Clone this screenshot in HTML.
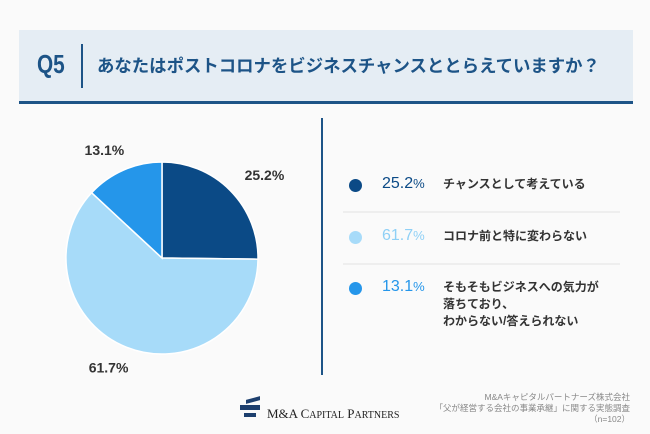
<!DOCTYPE html>
<html><head><meta charset="utf-8"><style>
body{margin:0;width:650px;height:434px;background:#fafafa;overflow:hidden;position:relative;font-family:"Liberation Sans","Noto Sans CJK JP",sans-serif}
.a{position:absolute}
</style></head><body>
<div class="a" style="left:19px;top:30px;width:614px;height:71px;background:#e5edf4;border-bottom:3px solid #1d5487"></div>
<div class="a" style="left:37px;top:49px;font-size:26px;font-weight:bold;color:#1d5487;transform:scaleX(.8);transform-origin:left">Q5</div>
<div class="a" style="left:81px;top:44px;width:2px;height:44px;background:#1d5487"></div>
<div class="a" style="left:97px;top:53px;font-size:17.4px;font-weight:bold;color:#1d5487">あなたはポストコロナをビジネスチャンスととらえていますか？</div>
<svg class="a" style="left:0;top:0" width="650" height="434">
<g id="pie"></g>
<line x1="322" y1="118" x2="322" y2="375" stroke="#1d5487" stroke-width="2"/>
<line x1="343" y1="212" x2="620" y2="212" stroke="#e2e2e2"/>
<line x1="343" y1="264" x2="620" y2="264" stroke="#e2e2e2"/>
</svg>
<div id="leg"></div>
<div class="a" style="left:240px;top:398px;width:20px;height:22px">
<div style="position:absolute;left:6px;top:0;width:14px;height:4px;background:#1d3f6e;transform:skewY(-15deg)"></div>
<div style="position:absolute;left:0;top:7px;width:20px;height:5px;background:#1d3f6e"></div>
<div style="position:absolute;left:4px;top:15px;width:12px;height:4px;background:#1d3f6e"></div></div>
<div class="a" style="left:267px;top:406px;font-family:'Liberation Serif',serif;font-size:13px;color:#222">M&amp;A C<span style="font-size:10px">APITAL</span> P<span style="font-size:10px">ARTNERS</span></div>
<div class="a" style="right:20px;top:392px;font-size:8.5px;color:#888;text-align:right;line-height:11px">M&amp;Aキャピタルパートナーズ株式会社<br>「父が経営する会社の事業承継」に関する実態調査<br>（n=102）</div>
<script>
const categories=["チャンスとして考えている","コロナ前と特に変わらない","そもそもビジネスへの気力が<br>落ちており、<br>わからない/答えられない"];
const values=[25.2,61.7,13.1];
const colors=["#0b4a86","#a7dbf9","#2596ea"];
const cx=162,cy=258,r=96;
const g=document.getElementById('pie');
const NS="http://www.w3.org/2000/svg";
const tot=values.reduce((a,b)=>a+b,0);
let acc=0;
values.forEach((v,i)=>{
 const a0=acc/tot*2*Math.PI;acc+=v;const a1=acc/tot*2*Math.PI;
 const p=(a)=>[cx+r*Math.sin(a),cy-r*Math.cos(a)];
 const [x0,y0]=p(a0),[x1,y1]=p(a1);
 const path=document.createElementNS(NS,'path');
 path.setAttribute('d',`M${cx},${cy}L${x0},${y0}A${r},${r} 0 ${a1-a0>Math.PI?1:0} 1 ${x1},${y1}Z`);
 path.setAttribute('fill',colors[i]);path.setAttribute('stroke','#fff');path.setAttribute('stroke-width','1.5');
 
 
 g.appendChild(path);
 const am=(a0+a1)/2;const lr=r+22;
 const t=document.createElementNS(NS,'text');
 t.setAttribute('x',cx+lr*1.22*Math.sin(am));t.setAttribute('y',cy-lr*Math.cos(am)+5);
 t.setAttribute('text-anchor','middle');t.setAttribute('font-size','14');t.setAttribute('font-weight','bold');t.setAttribute('fill','#333');
 t.textContent=v.toFixed(1)+'%';
 
 
 g.appendChild(t);
});
const leg=document.getElementById('leg');
const ys=[185,237,288];
values.forEach((v,i)=>{
 const d=document.createElement('div');d.className='a';d.style.cssText=`left:349px;top:${ys[i]-6}px;width:13px;height:13px;border-radius:50%;background:${colors[i]}`;
 
 
 leg.appendChild(d);
 const p=document.createElement('div');p.className='a';p.style.cssText=`left:382px;top:${ys[i]-10}px;font-size:16px;color:${i==1?'#8fd0f6':colors[i]}`;
 p.innerHTML=v.toFixed(1)+'<span style="font-size:13px">%</span>';
 
 
 leg.appendChild(p);
 const l=document.createElement('div');l.className='a';l.style.cssText=`left:443px;top:${ys[i]-9}px;font-size:12px;font-weight:bold;color:#333;line-height:17px`;
 l.innerHTML=categories[i];
 
 
 leg.appendChild(l);
});
</script>
</body></html>
